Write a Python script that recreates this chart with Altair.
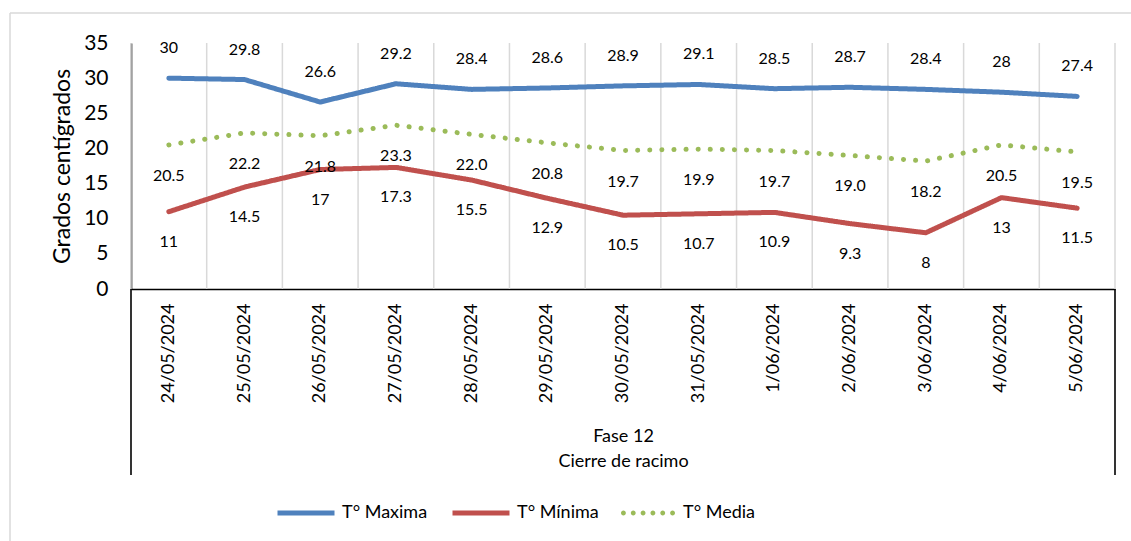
import altair as alt
import pandas as pd

# Daily temperatures, Fase 12 (cierre de racimo)
dates = ["24/05/2024", "25/05/2024", "26/05/2024", "27/05/2024", "28/05/2024",
         "29/05/2024", "30/05/2024", "31/05/2024", "1/06/2024", "2/06/2024",
         "3/06/2024", "4/06/2024", "5/06/2024"]
t_max = [30, 29.8, 26.6, 29.2, 28.4, 28.6, 28.9, 29.1, 28.5, 28.7, 28.4, 28, 27.4]
t_min = [11, 14.5, 17, 17.3, 15.5, 12.9, 10.5, 10.7, 10.9, 9.3, 8, 13, 11.5]
t_med = [20.5, 22.2, 21.8, 23.3, 22.0, 20.8, 19.7, 19.9, 19.7, 19.0, 18.2, 20.5, 19.5]
y_ticks = [0, 5, 10, 15, 20, 25, 30, 35]

series = ["T° Maxima", "T° Mínima", "T° Media"]
colors = ["#4F81BD", "#C0504D", "#9BBB59"]
dashes = [[1, 0], [1, 0], [0.1, 12]]

FONT = "Lato"
W, H = 984, 246


def dotted_symbol(n=6, r=0.09):
    """Custom legend symbol: a row of small round dots in the unit square."""
    step = (2 - 2 * r) / (n - 1)
    parts = []
    for i in range(n):
        cx = -1 + r + i * step
        parts.append(f"M{cx - r:.4f},0a{r},{r} 0 1,0 {2 * r},0a{r},{r} 0 1,0 {-2 * r},0Z")
    return "".join(parts)


rows = []
for name, vals, fmt in [(series[0], t_max, "g"), (series[1], t_min, "g"), (series[2], t_med, ".1f")]:
    for d, v in zip(dates, vals):
        rows.append({"fecha": d, "serie": name, "media": name, "valor": v,
                     "etiqueta": format(v, fmt)})
df = pd.DataFrame(rows)

x_scale = alt.Scale(type="band", paddingInner=0, paddingOuter=0)
x_axis = alt.Axis(title=["Fase 12", "Cierre de racimo"], labelAngle=-90,
                  labelFontSize=18, labelFont=FONT, labelColor="black",
                  labelPadding=14, ticks=False, grid=False,
                  domainColor="black", domainWidth=1.6,
                  titleFont=FONT, titleFontSize=18, titleFontWeight="normal",
                  titleColor="black", titleLineHeight=25,
                  titleY=147, titleBaseline="middle")
x_enc = alt.X("fecha:N", sort=dates, scale=x_scale, axis=x_axis)

y_scale = alt.Scale(domain=[0, 35], nice=False, zero=True)
y_enc = alt.Y("valor:Q", scale=y_scale,
              axis=alt.Axis(title="Grados centígrados", values=y_ticks, tickCount=8,
                            labelFontSize=21, labelFont=FONT, labelColor="black",
                            labelPadding=23, ticks=False, grid=False,
                            labelOverlap=False, labelFlush=False,
                            domainColor="black", domainWidth=1.6,
                            titleFont=FONT, titleFontSize=23, titleFontWeight="normal",
                            titleColor="black", titleX=-69, titleY=H / 2,
                            titleAngle=-90, titleAlign="center", titleBaseline="middle"))

base = alt.Chart(df)

# category separators
grid = alt.Chart(pd.DataFrame({"fecha": dates})).mark_rule(
    color="#D9D9D9", strokeWidth=1.5
).encode(x=alt.X("fecha:N", sort=dates, scale=x_scale, bandPosition=0, axis=x_axis))
grid_end = alt.Chart(pd.DataFrame({"fecha": dates[:1]})).mark_rule(
    color="#D9D9D9", strokeWidth=1.5
).encode(x=alt.value(W), y=alt.value(0), y2=alt.value(H))

lines = base.mark_line(strokeWidth=5, strokeCap="round", strokeJoin="round").encode(
    x=x_enc,
    y=y_enc,
    color=alt.Color("serie:N", scale=alt.Scale(domain=series, range=colors),
                    legend=alt.Legend(title=None, orient="none", direction="horizontal",
                                      values=series[:2],
                                      legendX=144, legendY=439,
                                      symbolType="stroke", symbolSize=3249,
                                      symbolStrokeWidth=5, labelFontSize=18,
                                      labelFont=FONT, labelColor="black",
                                      labelOffset=5, columnPadding=14)),
    strokeDash=alt.StrokeDash("serie:N", scale=alt.Scale(domain=series, range=dashes),
                              legend=None),
)

# legend entry for the dotted series (layer carries no marks of its own)
media_key = base.transform_filter("false").mark_point(
    filled=True, color=colors[2], opacity=1, strokeWidth=0
).encode(
    x=x_enc,
    y=y_enc,
    shape=alt.Shape("media:N", scale=alt.Scale(domain=series[2:], range=[dotted_symbol()]),
                    legend=alt.Legend(title=None, orient="none", direction="horizontal",
                                      legendX=490, legendY=443,
                                      symbolSize=2916, symbolFillColor=colors[2],
                                      symbolStrokeWidth=0, symbolOpacity=1,
                                      labelFontSize=18, labelFont=FONT,
                                      labelColor="black", labelOffset=8)),
)


def labels(name, dy):
    return base.transform_filter(alt.datum.serie == name).mark_text(
        dy=dy, fontSize=16, font=FONT, color="black", baseline="middle"
    ).encode(x=x_enc, y=y_enc, text="etiqueta:N")


lab_max = labels(series[0], -30)
lab_min = labels(series[1], 30)
lab_med = labels(series[2], 31)

# axis extensions around the group label and the outer frame
deco_src = alt.Chart(pd.DataFrame({"k": [0]}))
ext_left = deco_src.mark_rule(color="black", strokeWidth=1.6).encode(
    x=alt.value(0), y=alt.value(H), y2=alt.value(432))
ext_right = deco_src.mark_rule(color="black", strokeWidth=1.6).encode(
    x=alt.value(W), y=alt.value(H), y2=alt.value(432))
frame_top = deco_src.mark_rule(color="#D9D9D9", strokeWidth=1.5).encode(
    x=alt.value(-121), x2=alt.value(1010), y=alt.value(-30))
frame_left = deco_src.mark_rule(color="#D9D9D9", strokeWidth=1.5).encode(
    x=alt.value(-121), y=alt.value(-30), y2=alt.value(510))

chart = alt.layer(
    grid, grid_end, lines, media_key, lab_max, lab_min, lab_med,
    ext_left, ext_right, frame_top, frame_left
).resolve_scale(strokeDash="independent").properties(
    width=W, height=H,
    padding={"left": 131, "top": 43, "right": 16, "bottom": 252},
    autosize=alt.AutoSizeParams(type="none"),
    background="white",
).configure_view(stroke=None)

chart.save("out.html", embed_options={"renderer": "svg", "actions": False})
